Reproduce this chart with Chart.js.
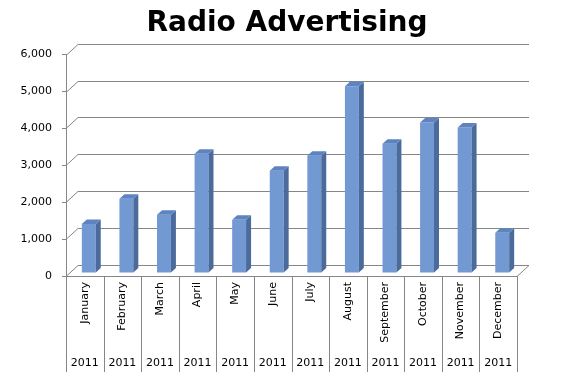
<!DOCTYPE html>
<html>
<head>
    <title>Radio Advertising</title>
    <script src="https://cdn.jsdelivr.net/npm/chart.js"></script>
    <style>
        html, body { margin: 0; padding: 0; background: #fff; }
        #wrap { width: 561px; height: 387px; }
    </style>
</head>
<body>
    <div id="wrap"><canvas id="radioChart"></canvas></div>

    <script>
        var months = ['January', 'February', 'March', 'April', 'May', 'June',
                      'July', 'August', 'September', 'October', 'November', 'December'];
        var years = ['2011', '2011', '2011', '2011', '2011', '2011',
                     '2011', '2011', '2011', '2011', '2011', '2011'];
        var spend = [1330, 2010, 1580, 3230, 1440, 2770, 3180, 5060, 3500, 4080, 3940, 1090];
        var yTicks = [0, 1000, 2000, 3000, 4000, 5000, 6000];

        var gridColor = '#868686';
        var labelFont = '11px "DejaVu Sans"';

        // fake 3D: wall depth and bar depth
        var wallDx = 12, wallDy = -11;
        var barDx = 5, barDy = -4.5;
        var barShiftX = 4, barShiftY = -3;

        var wallsPlugin = {
            id: 'walls',
            beforeDatasetsDraw: function (chart) {
                var ctx = chart.ctx;
                var y = chart.scales.y;
                var area = chart.chartArea;
                ctx.save();
                ctx.strokeStyle = gridColor;
                ctx.lineWidth = 1;
                yTicks.forEach(function (v) {
                    var py = Math.round(y.getPixelForValue(v)) + 0.5;
                    ctx.beginPath();
                    ctx.moveTo(area.left, py);
                    ctx.lineTo(area.left + wallDx, py + wallDy);
                    ctx.lineTo(area.right + wallDx, py + wallDy);
                    ctx.stroke();
                });
                // floor front and right edge
                var py0 = Math.round(y.getPixelForValue(0)) + 0.5;
                ctx.beginPath();
                ctx.moveTo(area.left, py0);
                ctx.lineTo(area.right, py0);
                ctx.lineTo(area.right + wallDx, py0 + wallDy);
                ctx.stroke();
                ctx.restore();
            },
            beforeDatasetDraw: function (chart) {
                chart.ctx.save();
                chart.ctx.translate(barShiftX, barShiftY);
            },
            afterDatasetDraw: function (chart, args) {
                var ctx = chart.ctx;
                args.meta.data.forEach(function (bar) {
                    var p = bar.getProps(['x', 'y', 'base', 'width'], true);
                    var l = p.x - p.width / 2, r = p.x + p.width / 2;
                    // side face
                    ctx.fillStyle = '#4a6b9c';
                    ctx.beginPath();
                    ctx.moveTo(r, p.y);
                    ctx.lineTo(r + barDx, p.y + barDy);
                    ctx.lineTo(r + barDx, p.base + barDy);
                    ctx.lineTo(r, p.base);
                    ctx.closePath();
                    ctx.fill();
                    // top face
                    ctx.fillStyle = '#5d84c0';
                    ctx.beginPath();
                    ctx.moveTo(l, p.y);
                    ctx.lineTo(l + barDx, p.y + barDy);
                    ctx.lineTo(r + barDx, p.y + barDy);
                    ctx.lineTo(r, p.y);
                    ctx.closePath();
                    ctx.fill();
                });
                ctx.restore();
            },
            afterDraw: function (chart) {
                var ctx = chart.ctx;
                var x = chart.scales.x;
                var area = chart.chartArea;
                var step = (area.right - area.left) / months.length;
                ctx.save();
                ctx.strokeStyle = gridColor;
                ctx.lineWidth = 1;
                for (var i = 0; i <= months.length; i++) {
                    var px = Math.round(area.left + i * step) + 0.5;
                    ctx.beginPath();
                    ctx.moveTo(px, area.bottom);
                    ctx.lineTo(px, area.bottom + 96);
                    ctx.stroke();
                }
                ctx.fillStyle = '#000';
                ctx.font = labelFont;
                ctx.textAlign = 'center';
                ctx.textBaseline = 'middle';
                years.forEach(function (yr, i) {
                    ctx.fillText(yr, x.getPixelForValue(i), area.bottom + 87);
                });
                ctx.restore();
            }
        };

        new Chart(document.getElementById('radioChart'), {
            type: 'bar',
            data: {
                labels: months,
                datasets: [{
                    label: 'Radio Advertising',
                    data: spend,
                    backgroundColor: '#7399d3',
                    borderWidth: 0,
                    categoryPercentage: 1,
                    barPercentage: 0.37,
                    clip: false
                }]
            },
            plugins: [wallsPlugin],
            options: {
                responsive: true,
                maintainAspectRatio: false,
                animation: false,
                layout: { padding: { left: 13, right: 0, top: 0, bottom: 0 } },
                plugins: {
                    legend: { display: false },
                    tooltip: { enabled: false },
                    title: {
                        display: true,
                        text: 'Radio Advertising',
                        color: '#000',
                        font: { family: 'DejaVu Sans', size: 28, weight: 'bold', lineHeight: 1.2 },
                        padding: { top: 7, bottom: 14 }
                    }
                },
                scales: {
                    x: {
                        grid: { display: false, drawTicks: false },
                        border: { display: false },
                        ticks: {
                            color: '#000',
                            font: { family: 'DejaVu Sans', size: 11 },
                            minRotation: 90,
                            maxRotation: 90,
                            autoSkip: false,
                            padding: 6
                        },
                        afterFit: function (s) { s.height = 111; }
                    },
                    y: {
                        min: 0,
                        max: 6000,
                        ticks: {
                            stepSize: 1000,
                            color: '#000',
                            padding: 10,
                            font: { family: 'DejaVu Sans', size: 11 },
                            callback: function (v) { return v.toLocaleString('en-US'); }
                        },
                        grid: { drawOnChartArea: false, drawTicks: true, tickLength: 4, color: gridColor },
                        border: { display: true, color: gridColor },
                        afterFit: function (s) { s.width = 53; }
                    },
                    y2: {
                        position: 'right',
                        grid: { display: false },
                        border: { display: false },
                        ticks: { display: false },
                        afterFit: function (s) { s.width = 44; }
                    }
                }
            }
        });
    </script>
</body>
</html>
